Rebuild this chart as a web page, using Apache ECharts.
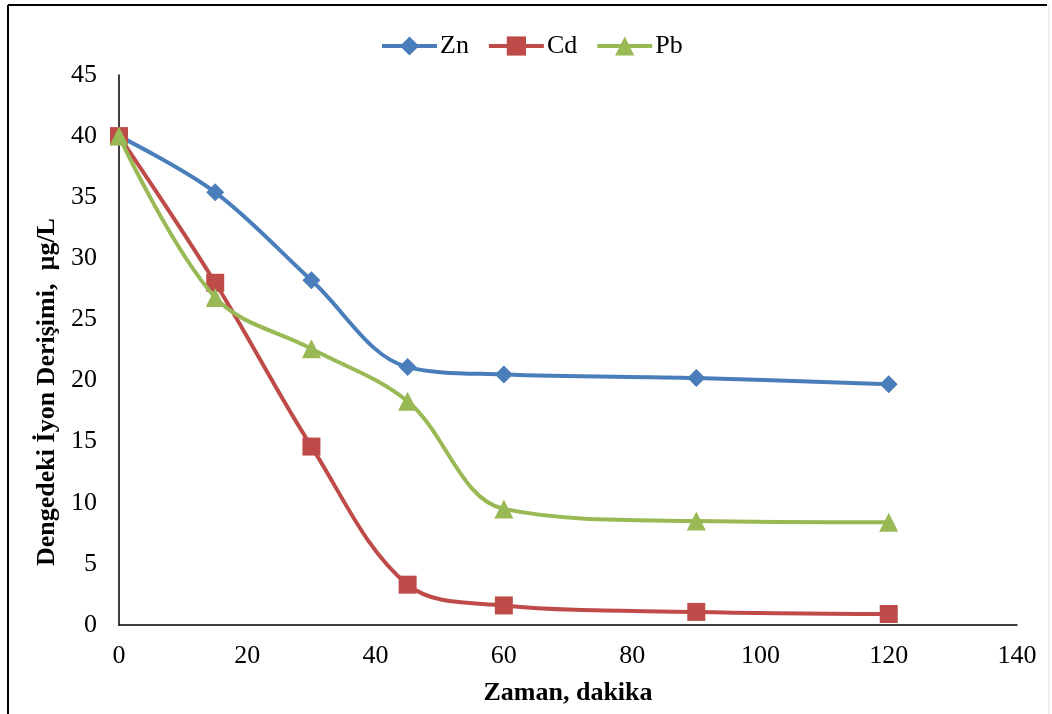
<!DOCTYPE html>
<html><head><meta charset="utf-8">
<script src="https://cdn.jsdelivr.net/npm/echarts@6/dist/echarts.min.js"></script>
<style>html,body{margin:0;padding:0;background:#fff}#c{width:1052px;height:714px}</style>
</head><body><div id="c"></div>
<script>
const times = [0, 15, 30, 45, 60, 90, 120];
const zn = [40, 35.4, 28.2, 21.1, 20.5, 20.2, 19.7];
const cd = [40, 28.0, 14.6, 3.3, 1.6, 1.07, 0.9];
const pb = [40, 26.8, 22.6, 18.3, 9.5, 8.5, 8.4];
const xTitle = 'Zaman, dakika';
const yTitle = 'Dengedeki İyon Derişimi,  µg/L';
const font = 'Liberation Serif, Times New Roman, serif';
const chart = echarts.init(document.getElementById('c'));
function pairs(v){ return times.map((t,i)=>[t,v[i]]); }
chart.setOption({
  animation:false,
  textStyle:{fontFamily:font},
  legend:{top:28,left:375,itemWidth:55,itemHeight:24,itemGap:18,
    lineStyle:{width:4},
    textStyle:{fontFamily:font,fontSize:26,color:'#000',padding:[0,0,0,-2]},
    data:['Zn','Cd','Pb']},
  grid:{left:119,right:35,top:75,bottom:89,containLabel:false},
  xAxis:{type:'value',min:0,max:140,interval:20,
    name:xTitle,nameLocation:'middle',nameGap:55,
    nameTextStyle:{fontFamily:font,fontSize:26,fontWeight:'bold',color:'#000'},
    axisLine:{show:true,lineStyle:{color:'#000',width:1.5}},
    axisTick:{show:false},splitLine:{show:false},
    axisLabel:{fontFamily:font,fontSize:26,color:'#000',margin:18}},
  yAxis:{type:'value',min:0,max:45,interval:5,
    name:yTitle,nameLocation:'middle',nameGap:59,
    nameTextStyle:{fontFamily:font,fontSize:26,fontWeight:'bold',color:'#000',padding:[0,84,0,0]},
    axisLine:{show:true,lineStyle:{color:'#000',width:1.5}},
    axisTick:{show:false},splitLine:{show:false},
    axisLabel:{fontFamily:font,fontSize:26,color:'#000',margin:22}},
  series:[
    {name:'Zn',type:'line',data:pairs(zn),smooth:0.35,symbol:'diamond',symbolSize:18,
      lineStyle:{color:'#4a7ebb',width:4},itemStyle:{color:'#4a7ebb'},z:2},
    {name:'Cd',type:'line',data:pairs(cd),smooth:0.35,symbol:'rect',symbolSize:18,
      lineStyle:{color:'#be4b48',width:4},itemStyle:{color:'#be4b48'},z:3},
    {name:'Pb',type:'line',data:pairs(pb),smooth:0.35,symbol:'triangle',symbolSize:19,
      lineStyle:{color:'#98b954',width:4},itemStyle:{color:'#98b954'},z:4}
  ],
  graphic:[
    {type:'line',shape:{x1:8,y1:5,x2:1047,y2:5},style:{stroke:'#000',lineWidth:2},silent:true},
    {type:'line',shape:{x1:8,y1:5,x2:8,y2:714},style:{stroke:'#000',lineWidth:2},silent:true},
    {type:'line',shape:{x1:1049,y1:5,x2:1049,y2:714},style:{stroke:'#ddd',lineWidth:1},silent:true}
  ]
});
</script></body></html>
